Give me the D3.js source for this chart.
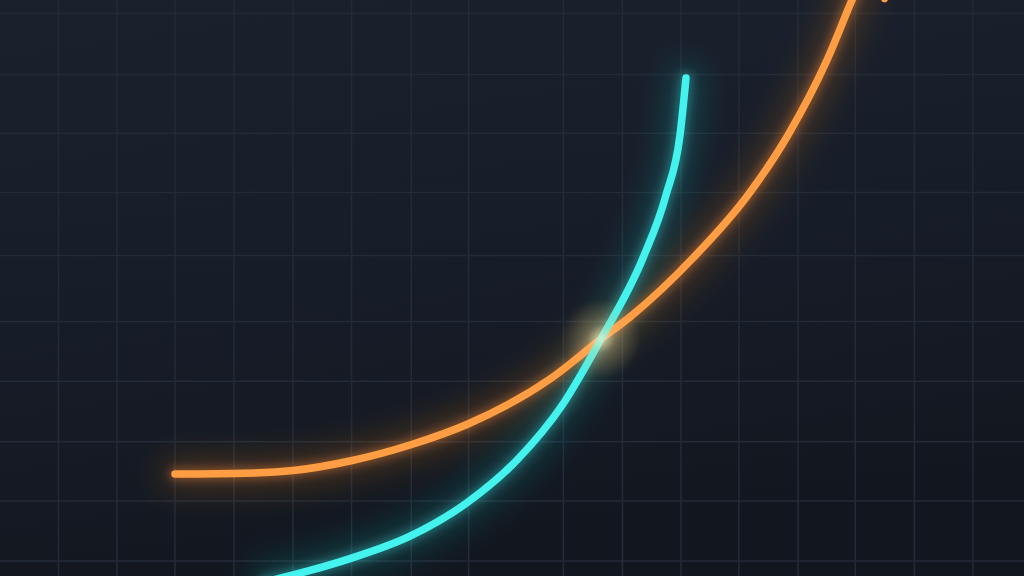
<!DOCTYPE html>
<html>
<head>
<meta charset="utf-8">
<script src="https://cdn.jsdelivr.net/npm/d3@7"></script>
<style>
  html, body { margin: 0; padding: 0; background: #161c26; overflow: hidden; }
  svg { display: block; }
</style>
</head>
<body>
<svg id="chart" width="1024" height="576"></svg>
<script>
// ---- data (grid units) ----
const gridX = [1, 2, 2.99, 4, 5.01, 6.01, 7.03, 8.01, 9.63, 10.64, 11.64, 12.63, 13.64, 14.62, 15.63, 16.63];
const gridY = [0, 0.99, 1.97, 2.97, 3.96, 5.05, 6.09, 7.07, 8.04, 9.05];

const orangeX = [2.991, 3.983, 5.009, 5.983, 7.009, 8.0, 9.402, 10.274, 10.769, 11.846, 12.786, 13.47, 14.137, 14.564, 14.803];
const orangeY = [1.438, 1.446, 1.496, 1.653, 1.917, 2.264, 3.008, 3.669, 4.033, 5.008, 6.05, 7.041, 8.281, 9.273, 9.802];

const cyanX = [4.53, 5.009, 5.983, 7.009, 8.0, 8.838, 9.624, 10.274, 10.991, 11.385, 11.624, 11.726];
const cyanY = [-0.347, -0.231, 0.04, 0.41, 0.975, 1.669, 2.595, 3.669, 5.008, 6.05, 7.041, 7.983];

const markerX = [15.12];
const markerY = [9.29];

const crossX = [10.274];
const crossY = [3.669];

// ---- layout ----
const W = 1024, H = 576;
const x = d3.scaleLinear().domain([0, 17.504]).range([0, W]);
const y = d3.scaleLinear().domain([0, 9.273]).range([561, 0]);

const svg = d3.select("#chart");
const defs = svg.append("defs");

// background gradient
const bg = defs.append("linearGradient").attr("id", "bg")
  .attr("x1", "0").attr("y1", "0").attr("x2", "0.25").attr("y2", "1");
bg.append("stop").attr("offset", "0%").attr("stop-color", "#1a212d");
bg.append("stop").attr("offset", "55%").attr("stop-color", "#171d28");
bg.append("stop").attr("offset", "100%").attr("stop-color", "#12171f");

svg.append("rect").attr("width", W).attr("height", H).attr("fill", "url(#bg)");

// glow filters
function glow(id, sd) {
  const f = defs.append("filter").attr("id", id)
    .attr("x", "-50%").attr("y", "-50%").attr("width", "200%").attr("height", "200%");
  f.append("feGaussianBlur").attr("stdDeviation", sd);
}
glow("blurWide", 16);
glow("blurMid", 5);

const cg = defs.append("radialGradient").attr("id", "crossGlow");
cg.append("stop").attr("offset", "0%").attr("stop-color", "#fff2c8").attr("stop-opacity", 0.7);
cg.append("stop").attr("offset", "35%").attr("stop-color", "#ffd08a").attr("stop-opacity", 0.28);
cg.append("stop").attr("offset", "100%").attr("stop-color", "#ffb060").attr("stop-opacity", 0);

// grid
const grid = svg.append("g").attr("stroke", "#232b37").attr("stroke-width", 1.5);
grid.selectAll("line.v").data(gridX).join("line").attr("class", "v")
  .attr("x1", d => x(d)).attr("x2", d => x(d)).attr("y1", 0).attr("y2", H);
grid.selectAll("line.h").data(gridY).join("line").attr("class", "h")
  .attr("y1", d => y(d)).attr("y2", d => y(d)).attr("x1", 0).attr("x2", W);

// series
const line = d3.line().x(d => x(d[0])).y(d => y(d[1])).curve(d3.curveMonotoneX);
const orange = d3.zip(orangeX, orangeY);
const cyan = d3.zip(cyanX, cyanY);

const series = [
  { pts: orange, color: "#ff9d45", glow: "#ff8a2a" },
  { pts: cyan, color: "#44f2ee", glow: "#22d8d8" }
];

series.forEach(s => {
  svg.append("path").attr("d", line(s.pts)).attr("fill", "none")
    .attr("stroke", s.glow).attr("stroke-width", 30).attr("stroke-opacity", 0.22)
    .attr("stroke-linecap", "round").attr("filter", "url(#blurWide)");
});
series.forEach(s => {
  svg.append("path").attr("d", line(s.pts)).attr("fill", "none")
    .attr("stroke", s.glow).attr("stroke-width", 12).attr("stroke-opacity", 0.4)
    .attr("stroke-linecap", "round").attr("filter", "url(#blurMid)");
});
series.forEach(s => {
  svg.append("path").attr("d", line(s.pts)).attr("fill", "none")
    .attr("stroke", s.color).attr("stroke-width", 7.5)
    .attr("stroke-linecap", "round");
});

// marker dot at top
svg.selectAll("circle.m").data(d3.zip(markerX, markerY)).join("circle").attr("class", "m")
  .attr("cx", d => x(d[0])).attr("cy", d => y(d[1])).attr("r", 3.5).attr("fill", "#ff9d45");

// crossing glow
svg.selectAll("circle.c").data(d3.zip(crossX, crossY)).join("circle").attr("class", "c")
  .attr("cx", d => x(d[0])).attr("cy", d => y(d[1])).attr("r", 40)
  .attr("fill", "url(#crossGlow)");
</script>
</body>
</html>
